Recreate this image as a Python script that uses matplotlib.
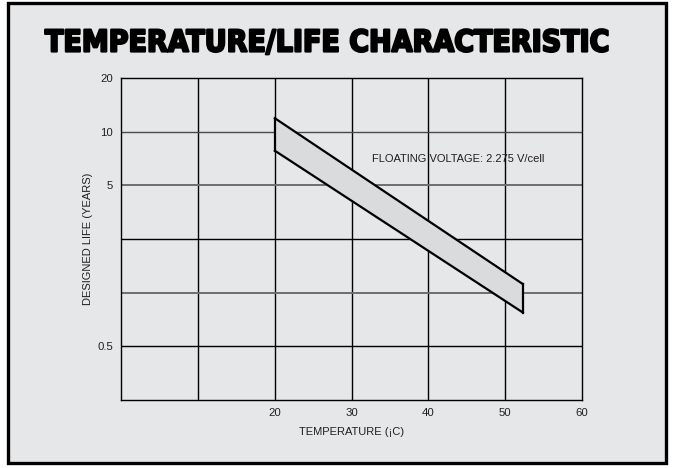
import matplotlib
matplotlib.use("Agg")
import matplotlib.pyplot as plt
import matplotlib.patches as patches
import matplotlib.patheffects as pe

# x in deg C, y in grid steps (chart uses a compressed life scale)
temp_ticks = [20, 30, 40, 50, 60]
temp_grid = [0, 10, 20, 30, 40, 50, 60]
life_pos = [1, 4, 5, 6]
life_labels = ["0.5", "5", "10", "20"]
life_grid = [1, 2, 3, 4, 5]
grid_colors = ["#000000", "#6d6e70", "#000000", "#6d6e70", "#4a4a4a"]

# band outline (upper edge, lower edge)
band_x = [20, 52.3]
band_upper = [5.25, 2.16]
band_lower = [4.645, 1.63]

BG = "#e6e7e9"
TXT = "#231f20"

fig = plt.figure(figsize=(6.76, 4.68), dpi=100)
fig.patch.set_facecolor("white")

# outer frame
W, H = 676.0, 468.0
frame = patches.Rectangle((8 / W, (H - 463) / H), (666 - 8) / W, (463 - 3) / H,
                          transform=fig.transFigure, facecolor=BG,
                          edgecolor="black", linewidth=2.4, zorder=-5)
fig.patches.append(frame)

title = fig.text(45 / W, (H - 43) / H, "TEMPERATURE/LIFE CHARACTERISTIC",
                 family="DejaVu Sans", fontstretch="condensed", fontweight="bold",
                 fontsize=26, va="center", ha="left", color="black",
                 path_effects=[pe.withStroke(linewidth=1.6, foreground="black")])
# fit title width to the reference (~565 px)
fig.canvas.draw()
bb = title.get_window_extent()
title.set_fontsize(26 * 565.0 / bb.width)

ax = fig.add_axes([121.3 / W, (H - 400) / H, (582 - 121.3) / W, (400 - 78) / H])
ax.set_zorder(2)
ax.set_facecolor(BG)
ax.set_xlim(0, 60)
ax.set_ylim(0, 6)

for xv in temp_grid[1:-1]:
    ax.axvline(xv, color="black", lw=1.0, zorder=1)
for yv, c in zip(life_grid, grid_colors):
    ax.axhline(yv, color=c, lw=1.4 if c == "#6d6e70" else 1.0, zorder=1)

ax.fill_between(band_x, band_lower, band_upper, color="#dadbdd", zorder=2)
ax.plot(band_x, band_upper, color="black", lw=1.6, zorder=3)
ax.plot(band_x, band_lower, color="black", lw=1.6, zorder=3)
ax.plot([band_x[0]] * 2, [band_lower[0], band_upper[0]], color="black", lw=1.6, zorder=3)
ax.plot([band_x[1]] * 2, [band_lower[1], band_upper[1]], color="black", lw=1.6, zorder=3)

ax.text(32.6, 4.485, "FLOATING VOLTAGE: 2.275 V/cell", family="Liberation Sans",
        fontsize=8.0, va="center", ha="left", color=TXT, zorder=4)

for s in ax.spines.values():
    s.set_linewidth(1.0)
    s.set_color("black")

ax.set_xticks(temp_ticks)
ax.set_xticklabels([str(t) for t in temp_ticks], family="Liberation Sans", fontsize=8.2)
ax.set_yticks(life_pos)
ax.set_yticklabels(life_labels, family="Liberation Sans", fontsize=8.2)
ax.tick_params(length=0, pad=6, colors=TXT)

ax.set_xlabel("TEMPERATURE (¡C)", family="Liberation Sans", fontsize=8.0,
              labelpad=6, color=TXT)
ax.set_ylabel("DESIGNED LIFE (YEARS)", family="Liberation Sans", fontsize=8.0,
              labelpad=3, color=TXT)

fig.savefig("out.png", dpi=100, facecolor=fig.get_facecolor())
